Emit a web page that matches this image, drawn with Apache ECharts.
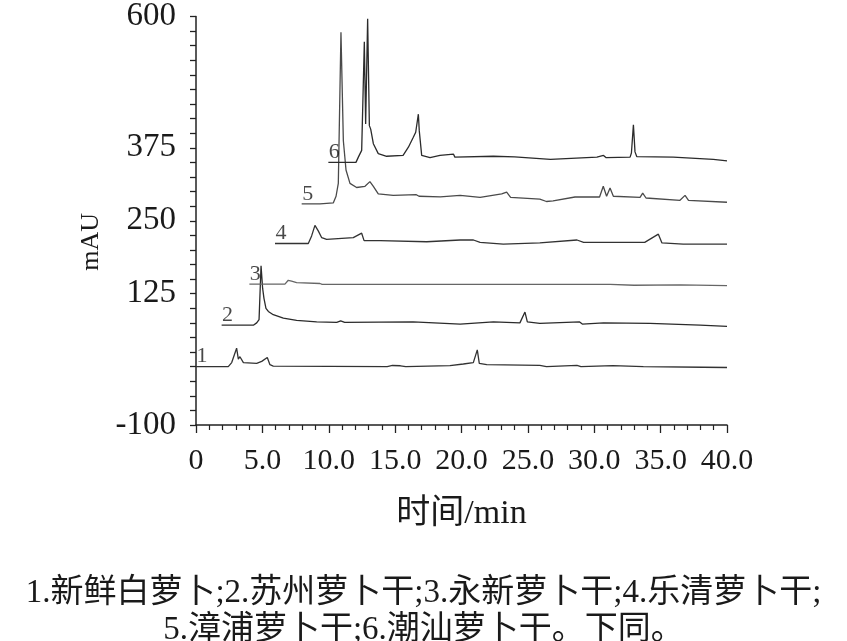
<!DOCTYPE html>
<html>
<head>
<meta charset="utf-8">
<title>萝卜干色谱图</title>
<script src="https://cdn.jsdelivr.net/npm/echarts@6/dist/echarts.min.js"></script>
<style>
  html, body { margin: 0; padding: 0; background: #fff; }
  #main { width: 847px; height: 641px; }
</style>
</head>
<body>
<div id="main"></div>
<script>
// sample names, in the order of the curves 1..6
var sampleNames = ['新鲜白萝卜', '苏州萝卜干', '永新萝卜干', '乐清萝卜干', '漳浦萝卜干', '潮汕萝卜干'];
var traceLabels = ['1', '2', '3', '4', '5', '6'];
var yLabels = [-100, 125, 250, 375, 600];
var caption = '1.新鲜白萝卜;2.苏州萝卜干;3.永新萝卜干;4.乐清萝卜干;\n5.漳浦萝卜干;6.潮汕萝卜干。下同。';

// [time/min, mAU]
var trace1 = [[0, 0], [2.43, 0], [2.69, 7], [2.81, 4], [3.06, 31.6], [3.19, 13], [3.31, 17], [3.57, 7],
  [4.57, 5.6], [4.95, 9], [5.37, 15.7], [5.57, 3.4], [5.82, 1], [14.4, 0], [14.8, 2], [15.4, 1.5], [15.8, 0],
  [19.13, 1.7], [20.14, 4.5], [20.89, 6.8], [21.19, 28.7], [21.34, 5.6], [21.9, 3.4], [25.9, 2.2], [26.4, 0],
  [28.7, 2.2], [29, 0], [31.4, 1.7], [33.7, 0], [38.2, -1], [40, -1.5]];
var trace2 = [[1.93, 71], [4.32, 71], [4.57, 75], [4.75, 80.6], [4.9, 173], [5.02, 134], [5.12, 117], [5.27, 100],
  [5.45, 94.6], [5.82, 89], [6.58, 83], [7.58, 79.4], [9.09, 76.6], [10.6, 76], [10.9, 78.5], [11.2, 76],
  [16.35, 76.6], [19.9, 73], [22.4, 76.6], [24.4, 75], [24.78, 93.5], [24.96, 76.6], [25.9, 74], [28.9, 76.6],
  [29.1, 73], [30.7, 75], [34.2, 74], [37.97, 71], [40, 69]];
var trace3 = [[4.02, 141.4], [6.7, 141.4], [6.95, 148], [7.2, 146.5], [7.58, 144], [9.34, 142.5], [9.5, 141],
  [31.2, 141], [33, 139.5], [36.5, 140], [40, 139]];
var trace4 = [[5.95, 211], [8.46, 211], [8.71, 224], [8.96, 242], [9.21, 232.6], [9.47, 221], [9.84, 218],
  [11.85, 221], [12.48, 228.7], [12.66, 216], [13.86, 216], [17.38, 214], [19.9, 217], [20.9, 217], [21.4, 213],
  [23.15, 210], [25.9, 212], [28.7, 217], [29.2, 213], [33.45, 213], [33.8, 213], [34.83, 227], [35.1, 212],
  [36.7, 210], [40, 210]];
var trace5 = [[7.96, 279], [9.34, 279], [10.34, 280.5], [10.55, 292], [10.72, 314], [10.92, 573], [11.1, 387],
  [11.3, 337], [11.6, 314], [12.1, 307], [12.73, 309], [13.1, 317], [13.36, 309], [13.73, 296], [14.86, 293.6],
  [16.6, 294.6], [16.8, 292], [18.4, 291], [19.9, 293.5], [21.4, 290], [23.03, 296], [23.4, 299], [23.7, 290],
  [25.9, 287], [26.4, 283], [26.9, 284], [28.55, 290.7], [30.4, 290.7], [30.68, 309], [30.93, 292], [31.19, 306],
  [31.44, 292], [33.45, 290], [33.65, 297.4], [33.9, 289], [36.46, 285], [36.84, 293.5], [37.1, 285], [40, 281.7]];
var trace6 = [[9.97, 350], [12.05, 350], [12.23, 359], [12.48, 370.6], [12.68, 556.5], [12.78, 415.7], [12.93, 596],
  [13.06, 413], [13.16, 407], [13.36, 382], [13.73, 365], [14.36, 360.5], [15.6, 362], [16, 376], [16.37, 393],
  [16.55, 401.7], [16.75, 432.6], [16.82, 404], [17, 362], [17.63, 358], [18.38, 362], [19.4, 364], [19.5, 359],
  [22.4, 360.5], [24, 359.4], [26.7, 355], [30.2, 359], [30.7, 362], [30.9, 358], [32.7, 359], [32.8, 366],
  [32.95, 414.6], [33.07, 368], [33.2, 360], [35.95, 359], [38.97, 355], [40, 352.7]];

var traces = [trace1, trace2, trace3, trace4, trace5, trace6];
var traceColors = ['#333', '#2b2b2b', '#666', '#333', '#4a4a4a', '#2b2b2b'];

var serif = "'Liberation Serif', 'Times New Roman', 'Noto Sans CJK SC', serif";

var series = traces.map(function (tr, i) {
  return {
    name: sampleNames[i],
    type: 'line',
    data: tr,
    symbol: 'none',
    showSymbol: false,
    smooth: false,
    lineStyle: { color: traceColors[i], width: 1.3 },
    z: 3
  };
});
// curve numbers sit just above the start of each curve
series.push({
  type: 'scatter',
  symbolSize: 0,
  data: traces.map(function (tr, i) {
    return { name: traceLabels[i], value: tr[0] };
  }),
  label: {
    show: true,
    position: 'top',
    distance: 0,
    offset: [6, 1],
    formatter: '{b}',
    color: '#1a1a1a',
    fontSize: 22,
    fontFamily: serif
  },
  silent: true,
  z: 4
});

var myChart = echarts.init(document.getElementById('main'));
myChart.setOption({
  backgroundColor: '#fff',
  animation: false,
  title: {
    text: caption,
    left: 'center',
    top: 570,
    textStyle: {
      fontSize: 33,
      lineHeight: 37,
      fontWeight: 'normal',
      color: '#1a1a1a',
      fontFamily: serif
    }
  },
  grid: { left: 196, right: 120, top: 13, bottom: 216 },
  xAxis: {
    type: 'value',
    min: 0,
    max: 40,
    interval: 5,
    name: '时间/min',
    nameLocation: 'middle',
    nameGap: 72,
    nameTextStyle: { fontSize: 34, color: '#1a1a1a', fontFamily: serif },
    axisLine: { onZero: false, lineStyle: { color: '#222', width: 1.5 } },
    axisTick: { show: true, inside: false, length: 8, lineStyle: { color: '#222', width: 1.3 } },
    minorTick: { show: true, splitNumber: 5, length: 5, lineStyle: { color: '#222', width: 1.2 } },
    splitLine: { show: false },
    axisLabel: {
      margin: 21,
      fontSize: 30,
      color: '#1a1a1a',
      fontFamily: serif,
      formatter: function (v) { return v === 0 ? '0' : v.toFixed(1); }
    }
  },
  yAxis: {
    type: 'value',
    min: -100,
    max: 600,
    interval: 25,
    name: 'mAU',
    nameLocation: 'middle',
    nameRotate: 90,
    nameGap: 90,
    nameTextStyle: { fontSize: 26, color: '#1a1a1a', fontFamily: serif, padding: [0, 42, 0, 0] },
    axisLine: { show: true, onZero: false, lineStyle: { color: '#222', width: 1.5 } },
    axisTick: { show: true, inside: false, length: 6, lineStyle: { color: '#222', width: 1.3 } },
    splitLine: { show: false },
    axisLabel: {
      margin: 20,
      fontSize: 33,
      color: '#1a1a1a',
      fontFamily: serif,
      formatter: function (v) { return yLabels.indexOf(v) >= 0 ? String(v) : ''; }
    }
  },
  series: series
});
</script>
</body>
</html>
